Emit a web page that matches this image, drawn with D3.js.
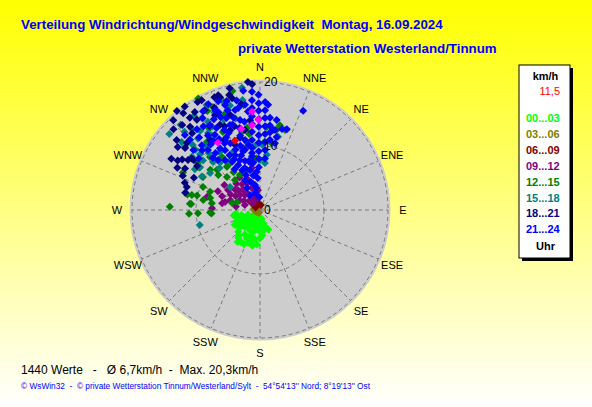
<!DOCTYPE html>
<html>
<head>
<meta charset="utf-8">
<script src="https://cdn.jsdelivr.net/npm/d3@7/dist/d3.min.js"></script>
<style>
  body { margin: 0; padding: 0; overflow: hidden; }
  text { font-family: "Liberation Sans", Arial, sans-serif; }
</style>
</head>
<body>
<div id="chart"></div>
<script>
// Windrichtung (Grad) und Windgeschwindigkeit (km/h), je Zeitabschnitt
const h00_03 = [[200,5.5],[210,5.8],[215,6.1],[205,5.9],[185,5.4],[195,5.0],[220,5.2],[225,4.8],[190,4.6],[180,4.4],
  [175,4.0],[200,4.2],[212,4.5],[230,4.3],[240,4.6],[245,4.0],[235,3.8],[222,3.6],[208,3.5],[195,3.4],[182,3.3],
  [170,3.2],[160,3.0],[157,3.3],[250,3.6],[258,4.2],[255,3.0],[240,3.1],[228,2.9],[215,2.8],[200,2.7],[188,2.6],
  [175,2.5],[165,2.2],[240,2.3],[225,2.2],[210,2.1],[195,2.0],[180,1.8],[250,2.0],[230,1.6],[215,1.5],[200,1.4],
  [190,1.2],[220,1.0],[170,1.4],[205,4.9],[218,5.5],[192,5.7],[228,3.3],[245,2.8],[262,3.8]];
const h03_06 = [[260,0.8],[240,0.6],[280,1.0],[200,0.5],[300,0.7]];
const h06_09 = [[335,1.2],[320,1.0],[350,0.9],[300,0.8],[340,1.6],[310,1.4],[10,0.8]];
const h09_12 = [[307,3.9],[326,2.8],[309,5.0],[333,1.75],[288,4.9],[288,2.5],[354,3.1],[334,4.7],[284,8.5],[272,7.5],
  [280,6.0],[302,5.9],[349,6.7],[315,3.3],[320,4.2],[300,4.4],[295,3.5],[340,3.6],[330,2.0],[310,2.2],[345,2.4],
  [318,5.5],[298,5.2],[325,4.9],[312,4.6],[290,6.3],[305,6.8],[338,5.2],[300,2.9],[322,3.6],[315,1.5],[278,3.8],
  [283,5.6],[345,4.2],[328,6.0],[294,7.2]];
const h12_15 = [[272,14.1],[267,11.1],[275,10.8],[267,7.8],[278,7.6],[282,11.6],[283,10.1],[275,11.0],[267,9.7],
  [266,7.6],[282.4,10.9],[283.5,8.0],[292,9.6],[310,8.5],[315,7.3],[320,6.1],[330,6.3],[337,6.8],[324.6,8.6],
  [324.4,10.2],[316.7,11.4],[307,12.2],[289,3.8],[284,4.5],[331,19.9],[347,19.1],[332,17.5],[351,16.6],[4.6,13],
  [351,13],[13.2,13.6],[4,10.7],[356,8.1],[11.8,12.8],[9.9,10.6],[17.4,13.1],[347,12.5],[321,13.1],[296,13.4],
  [309,10],[322.5,8.5],[342,6.6],[349,8.0],[335.5,17.7],[322,13.5],[334.6,13.5],[300,10.3],[305,11.6],[313,9.2],
  [325,7.2],[280,9.0],[290,8.3],[345,10.0],[352,12.0],[340,16.0],[328,15.0]];
const h15_18 = [[311,16.2],[310,15.3],[315,15.5],[311,11.8],[305.6,11.5],[315.6,10.5],[306.5,9.7],[316,9.1],[256,9.7],
  [307.5,5.9],[0,7.8],[7,8.7],[317,18.2],[316,17],[327.8,17],[329.4,16],[341,18.1],[319,14.8],[327,13.9],[330,12.6],
  [351,17.4],[13.8,11.8],[349,10.8],[6,7.4],[351.6,19.3],[333,18.4],[340,18.6],[323,15.5],[326,14.5],[320,13.0],
  [313,13.8],[318,12.0],[325,11.0],[335,10.0],[330,15.0],[345,14.8],[314,14.6],[310,18.5],[320,16.5],[335,16.8],
  [338,15.2],[344,17.0],[325,18.0],[313,12.8],[308,13.5],[302,12.0],[300,10.5],[320,9.7],[328,9.0],[332,12.2],
  [2,10.2],[355,10.0]];
const h18_21 = [[320,20.2],[317.5,18.0],[338,19.0],[354.6,20.1],[356.4,19.7],[331,17.8],[312.5,15.5],[307.5,16.2],
  [301,15],[299,13.4],[307,13],[294,13.2],[287.5,12],[283,12],[318.5,16],[321.6,19.3],[326.4,18.4],[320,17],
  [307,13.4],[340,19.1],[345,18.6],[344.5,11.7],[339.4,13.3],[333.4,12.2],[349.4,12.7],[339,10.9],[334.8,14.7],
  [324.5,13.4],[342.5,15.6],[334.6,16.4],[353.7,14.1],[322.7,18.1],[340.5,18.7],[346,18.0],[325,17.2],[304.8,13.7],
  [309.6,15.2],[313,18.5],[310,17.0],[316,19.5],[324,20.0],[330,19.5],[300,16.0],[297,14.5],[303,14.5],[290,12.5],
  [296,11.5],[305,12.0],[336,17.5],[329,15.3],[343,13.7],[350,16.8],[332,19.4],[337,14.2],[346,19.6]];
const h21_24 = [[356.1,18.5],[355.8,17.2],[355.5,16.0],[355.1,14.7],[354.7,13.5],[354.1,12.3],[353.5,11.0],[352.6,9.8],
  [351.6,8.5],[350,7.3],[359.3,18.0],[359.3,16.7],[359.2,15.5],[359.2,14.2],[359.1,13.0],[359,11.7],[358.9,10.5],
  [358.8,9.2],[358.6,8.0],[358.3,6.7],[2.7,16.9],[2.9,15.6],[3.1,14.4],[3.4,13.1],[3.8,11.9],[4.2,10.6],[4.8,9.4],
  [5.5,8.1],[6.2,14.5],[6.7,13.3],[7.3,12.2],[8.0,11.1],[23.5,16.9],[4.4,16.5],[9.2,12.7],[12.9,11.7],[335.8,17.1],
  [341.6,17.3],[346,16.1],[351.9,16.6],[329.5,15.4],[340.6,14.1],[347.5,14.4],[329,13.7],[329.7,10.8],[335.6,9.4],
  [346,9.7],[338,8.4],[346,6.4],[333.4,5.2],[348.7,4.0],[326,2.8],[315,16.6],[315,15.5],[318,13.6],[319,12.4],
  [320,10.2],[331,9.8],[328,16.9],[335,12.5],[340,11.5],[345,12.0],[343,10.5],[338,13.0],[332,14.5],[344,15.0],
  [350,14.0],[337,15.8],[325,14.2],[341,9.0],[352,7.5],[349,5.5],[356,5.0],[340,7.0],[334,7.8],[327,11.5],
  [323,12.8],[348,11.2],[355,6.0],[351,3.5],[345,2.8],[357,2.0],[10.6,12.7],[15.2,13.1],[18.4,13.3],[12.6,10.7],
  [10.5,14.3],[320,14.8],[322,16.0],[326,15.8],[330,17.8],[334,18.4],[339,18.2],[343,17.8],[348,17.5],[352,18.8],
  [337,16.6],[333,15.9],[342,16.4],[346,13.2],[336,11.4],[332,11.8],[330,12.8],[326,13.0],[322,11.3],[318,11.0],
  [325,9.5],[330,8.7],[336,6.8],[343,8.0],[347,7.8],[338,5.9],[342,4.6],[330,4.0],[352,9.0],[350,10.3],[344,9.6],
  [338,10.2],[333,8.9],[328,7.5],[340,15.3],[336,13.7],[342,14.0],[353,15.5],[348,16.3],[312,14.0],[310,12.5],
  [316,13.0]];
const marked = [[355.3,15.4],[359,14.1],[354.6,13.3],[328,12.4],[347,13.0]];
const current = [[340,11.5]];

const bins = ['00...03', '03...06', '06...09', '09...12', '12...15', '15...18', '18...21', '21...24'];
const binColors = ['#00ff00', '#808000', '#800000', '#800080', '#008000', '#008080', '#000080', '#0000ff'];
const binData = [h00_03, h03_06, h06_09, h09_12, h12_15, h15_18, h18_21, h21_24];

const compass = ['N', 'NNE', 'NE', 'ENE', 'E', 'ESE', 'SE', 'SSE', 'S', 'SSW', 'SW', 'WSW', 'W', 'WNW', 'NW', 'NNW'];
const rings = [0, 10, 20];

const W = 592, H = 407;
const cx = 260, cy = 210, R = 128;

const svg = d3.select('#chart').append('svg')
  .attr('width', W).attr('height', H);

// Hintergrund mit Verlauf
const grad = svg.append('defs').append('linearGradient')
  .attr('id', 'bg').attr('x1', 0).attr('y1', 0).attr('x2', 0).attr('y2', 1);
grad.append('stop').attr('offset', '0%').attr('stop-color', '#ffff00');
grad.append('stop').attr('offset', '100%').attr('stop-color', '#ffffff');
svg.append('rect').attr('width', W).attr('height', H).attr('fill', 'url(#bg)');

// Titel
svg.append('text').attr('x', 21).attr('y', 29)
  .style('font-size', '13.3px').style('font-weight', 'bold').style('fill', '#0000ff')
  .attr('xml:space', 'preserve')
  .text('Verteilung Windrichtung/Windgeschwindigkeit  Montag, 16.09.2024');
svg.append('text').attr('x', 238).attr('y', 53)
  .style('font-size', '13.3px').style('font-weight', 'bold').style('fill', '#0000ff')
  .text('private Wetterstation Westerland/Tinnum');

const rScale = d3.scaleLinear().domain([0, 20]).range([0, R]);
const ang = d => (d - 90) * Math.PI / 180;
const px = (dir, v) => rScale(v) * Math.cos(ang(dir));
const py = (dir, v) => rScale(v) * Math.sin(ang(dir));

const g = svg.append('g').attr('transform', `translate(${cx},${cy})`);

g.append('circle').attr('r', R + 2.5).attr('fill', '#cdcdcd');

// Raster
g.selectAll('.spoke').data(compass).enter().append('line')
  .attr('x1', 0).attr('y1', 0)
  .attr('x2', (d, i) => px(i * 22.5, 20))
  .attr('y2', (d, i) => py(i * 22.5, 20))
  .attr('stroke', '#7a7a7a').attr('stroke-width', 1).attr('stroke-dasharray', '4,3');
g.selectAll('.ring').data(rings.slice(1)).enter().append('circle')
  .attr('r', d => rScale(d)).attr('fill', 'none')
  .attr('stroke', '#7a7a7a').attr('stroke-width', 1).attr('stroke-dasharray', '4,3');

// Richtungen
g.selectAll('.dir').data(compass).enter().append('text')
  .attr('x', (d, i) => Math.cos(ang(i * 22.5)) * 143)
  .attr('y', (d, i) => Math.sin(ang(i * 22.5)) * 143)
  .attr('text-anchor', 'middle').attr('dy', '0.35em')
  .style('font-size', '11px').style('fill', '#000')
  .text(d => d);

// Messpunkte
const diamond = 'M0,-4L4,0L0,4L-4,0Z';
const drawPts = (data, color) => {
  g.append('g').selectAll('path').data(data).enter().append('path')
    .attr('d', diamond)
    .attr('transform', d => `translate(${px(d[0], d[1])},${py(d[0], d[1])})`)
    .attr('fill', color);
};
binData.forEach((data, i) => drawPts(data, binColors[i]));
drawPts(marked, '#ff00ff');
drawPts(current, '#ff0000');

// Skalenbeschriftung
g.selectAll('.rl').data(rings).enter().append('text')
  .attr('x', 4).attr('y', d => -rScale(d)).attr('dy', '0.35em')
  .style('font-size', '12px').style('fill', '#000')
  .text(d => d);

// Legende
const lx = 519, ly = 65, lw = 51, lh = 193;
svg.append('rect').attr('x', lx + 3).attr('y', ly + 3).attr('width', lw).attr('height', lh).attr('fill', '#000');
svg.append('rect').attr('x', lx).attr('y', ly).attr('width', lw).attr('height', lh)
  .attr('fill', '#fff').attr('stroke', '#000').attr('stroke-width', 1);
svg.append('text').attr('x', lx + lw / 2 + 1).attr('y', 80).attr('text-anchor', 'middle')
  .style('font-size', '11px').style('font-weight', 'bold').text('km/h');
svg.append('text').attr('x', 560).attr('y', 95).attr('text-anchor', 'end')
  .style('font-size', '11px').style('fill', '#ff0000').text('11,5');
svg.selectAll('.leg').data(bins).enter().append('text')
  .attr('x', 526).attr('y', (d, i) => 122 + i * 15.9)
  .style('font-size', '11px').style('font-weight', 'bold')
  .style('fill', (d, i) => binColors[i])
  .text(d => d);
svg.append('text').attr('x', lx + lw / 2 + 1).attr('y', 250).attr('text-anchor', 'middle')
  .style('font-size', '11px').style('font-weight', 'bold').text('Uhr');

// Fußzeile
svg.append('text').attr('x', 21).attr('y', 374).attr('xml:space', 'preserve')
  .style('font-size', '12px').style('fill', '#000')
  .text('1440 Werte   -   Ø 6,7km/h  -  Max. 20,3km/h');
svg.append('text').attr('x', 21).attr('y', 389).attr('xml:space', 'preserve')
  .style('font-size', '8.3px').style('fill', '#0000ff')
  .text('© WsWin32  -  © private Wetterstation Tinnum/Westerland/Sylt  -  54°54\'13\'\' Nord; 8°19\'13\'\' Ost');
</script>
</body>
</html>
